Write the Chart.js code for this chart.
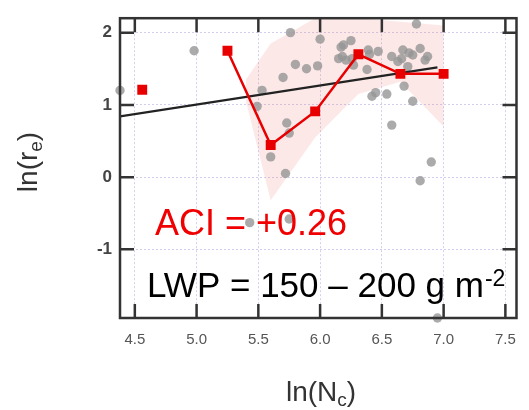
<!DOCTYPE html>
<html><head><meta charset="utf-8">
<style>html,body{margin:0;padding:0;background:#fff}#wrap{position:relative;width:529px;height:410px}</style>
<script src="https://cdn.jsdelivr.net/npm/chart.js@4/dist/chart.umd.min.js"></script>
</head><body><div id="wrap"><canvas id="c" width="529" height="410"></canvas></div>
<script>
const xTicks = [4.5, 5.0, 5.5, 6.0, 6.5, 7.0, 7.5];
const yTicks = [-1, 0, 1, 2];
const grayX = [4.38, 4.98, 5.76, 5.80, 5.70, 5.89, 5.98, 6.00, 5.53, 5.49, 5.73, 5.75, 5.60, 5.72, 5.43, 5.75,
  6.17, 6.19, 6.25, 6.15, 6.18, 6.26, 6.27, 6.39, 6.47, 6.38, 6.58, 6.67, 6.66, 6.75, 6.81, 6.87, 6.71, 6.78,
  6.68, 6.42, 6.45, 6.54, 6.75, 6.58, 6.90, 6.81, 6.95, 6.63, 6.72, 6.40, 6.21, 6.85];
const grayY = [1.20, 1.75, 2.00, 1.56, 1.38, 1.50, 1.54, 1.91, 1.20, 0.98, 0.75, 0.61, 0.28, 0.05, -0.63, -0.58,
  1.80, 1.83, 1.89, 1.64, 1.67, 1.64, 1.55, 1.76, 1.74, 1.49, 1.67, 1.76, 1.64, 1.69, 1.78, 1.67, 1.53, 2.12,
  1.26, 1.12, 1.17, 1.15, 1.05, 0.72, 0.21, -0.05, -1.95, 1.60, 1.72, 1.70, 1.62, 1.62];
const binX = [4.56, 5.25, 5.60, 5.96, 6.31, 6.65, 7.00];
const binY = [1.21, 1.75, 0.445, 0.91, 1.70, 1.43, 1.43];
const fitX = [4.38, 6.95];
const fitY = [0.84, 1.52];
const bandX = [5.40, 5.60, 5.96, 6.31, 6.65, 7.00];
const bandUpper = [1.35, 1.85, 2.20, 2.20, 2.15, 2.10];
const bandLower = [1.05, -0.32, 0.55, 1.15, 1.32, 0.70];
const aciText = "ACI = +0.26";
const lwpText = "LWP = 150 \u2013 200 g m";
const lwpSup = "-2";

const pts = (xs, ys) => xs.map((x, i) => ({x: x, y: ys[i]}));
const RED = 'rgb(232,0,0)';
const FONT = '"Liberation Sans", Arial, sans-serif';

const framePlugin = {
  id: 'frame',
  afterDatasetsDraw(chart) {
    const ctx = chart.ctx, a = chart.chartArea;
    const xs = chart.scales.x, ys = chart.scales.y;
    ctx.save();
    ctx.fillStyle = 'rgb(240,0,0)';
    ctx.font = '36px ' + FONT;
    ctx.textBaseline = 'alphabetic';
    ctx.textAlign = 'left';
    ctx.fillText(aciText, 155, 235);
    ctx.fillStyle = '#000';
    ctx.font = '35px ' + FONT;
    ctx.fillText(lwpText, 147, 297);
    const w = ctx.measureText(lwpText).width;
    ctx.font = '23px ' + FONT;
    ctx.fillText(lwpSup, 147 + w + 1, 286);
    ctx.strokeStyle = '#333';
    ctx.lineWidth = 2.5;
    ctx.strokeRect(a.left, a.top, a.right - a.left, a.bottom - a.top);
    const TL = 14;
    ctx.beginPath();
    xTicks.forEach(v => {
      const p = xs.getPixelForValue(v);
      ctx.moveTo(p, a.bottom); ctx.lineTo(p, a.bottom - TL);
      ctx.moveTo(p, a.top); ctx.lineTo(p, a.top + TL);
    });
    yTicks.forEach(v => {
      const p = ys.getPixelForValue(v);
      ctx.moveTo(a.left, p); ctx.lineTo(a.left + TL, p);
      ctx.moveTo(a.right, p); ctx.lineTo(a.right - TL, p);
    });
    ctx.stroke();
    ctx.fillStyle = '#333';
    const drawSub = (main, sub, close, cx, cy) => {
      ctx.font = '28px ' + FONT;
      const w1 = ctx.measureText(main).width, w3 = ctx.measureText(close).width;
      ctx.font = '19px ' + FONT;
      const w2 = ctx.measureText(sub).width;
      let x = cx - (w1 + w2 + w3) / 2;
      ctx.font = '28px ' + FONT;
      ctx.fillText(main, x, cy); x += w1;
      ctx.font = '19px ' + FONT;
      ctx.fillText(sub, x, cy + 5); x += w2;
      ctx.font = '28px ' + FONT;
      ctx.fillText(close, x, cy);
    };
    drawSub('ln(N', 'c', ')', 321, 401);
    ctx.translate(37, 162);
    ctx.rotate(-Math.PI / 2);
    drawSub('ln(r', 'e', ')', 0, 0);
    ctx.restore();
  }
};

new Chart(document.getElementById('c'), {
  type: 'scatter',
  data: {
    datasets: [
      {label: 'upper', data: pts(bandX, bandUpper), showLine: true, pointRadius: 0, borderWidth: 0,
       borderColor: 'transparent', fill: false, order: 10},
      {label: 'lower', data: pts(bandX, bandLower), showLine: true, pointRadius: 0, borderWidth: 0,
       borderColor: 'transparent', backgroundColor: 'rgba(240,110,110,0.16)', fill: '-1', order: 9},
      {label: 'obs', data: pts(grayX, grayY), pointRadius: 4.7, pointBackgroundColor: 'rgba(150,150,150,0.8)',
       pointBorderWidth: 0, borderWidth: 0, clip: false, order: 5},
      {label: 'fit', data: pts(fitX, fitY), showLine: true, pointRadius: 0, borderColor: '#222', borderWidth: 2.3, order: 3},
      {label: 'bins', data: pts(binX, binY), showLine: true, pointStyle: 'rect', pointRadius: 7,
       pointBackgroundColor: RED, pointBorderWidth: 0, borderColor: RED, borderWidth: 2.5, order: 1,
       segment: {borderColor: c => c.p0DataIndex === 0 ? 'transparent' : RED}}
    ]
  },
  options: {
    responsive: false, animation: false, devicePixelRatio: 1,
    layout: {padding: {top: 12, right: 7, left: 0, bottom: 0}},
    plugins: {legend: {display: false}, tooltip: {enabled: false}},
    scales: {
      x: {
        type: 'linear', min: 4.38, max: 7.59,
        afterBuildTicks: s => { s.ticks = xTicks.map(v => ({value: v})); },
        afterFit: s => { s.height = 92; },
        ticks: {callback: v => v.toFixed(1), color: '#555', font: {family: FONT, size: 15}, padding: 13, maxRotation: 0, autoSkip: false},
        grid: {color: '#d0d0ee', lineWidth: 1, drawTicks: false},
        border: {display: false, dash: [2, 2]}
      },
      y: {
        type: 'linear', min: -1.95, max: 2.2,
        afterBuildTicks: s => { s.ticks = yTicks.map(v => ({value: v})); },
        afterFit: s => { s.width = 120; },
        ticks: {callback: v => String(v), color: '#444', font: {family: FONT, size: 17, weight: 'bold'}, padding: 8},
        grid: {color: '#d0d0ee', lineWidth: 1, drawTicks: false},
        border: {display: false, dash: [2, 2]}
      }
    }
  },
  plugins: [framePlugin]
});
</script></body></html>
